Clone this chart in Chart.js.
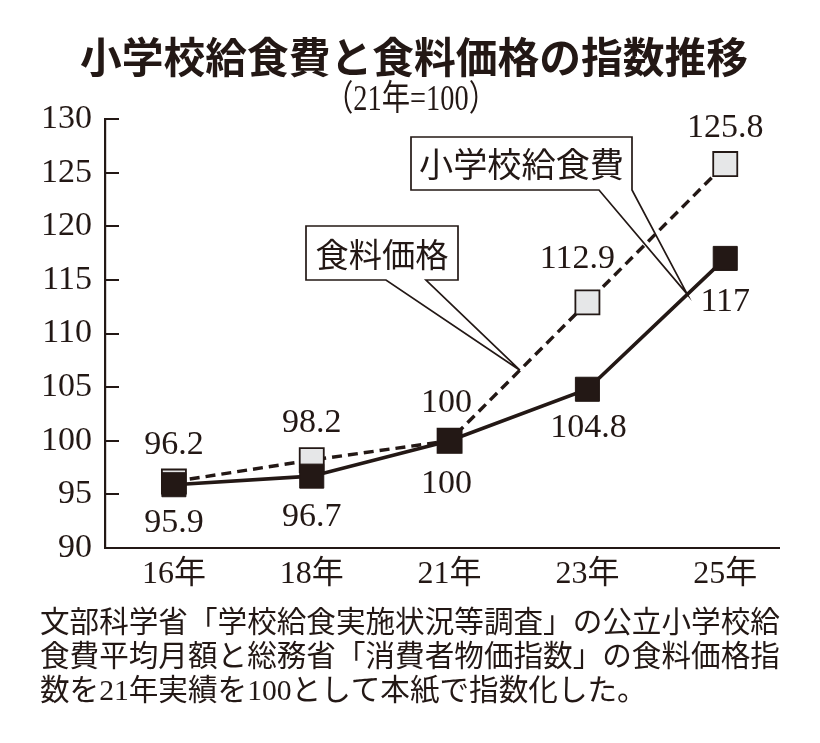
<!DOCTYPE html>
<html><head><meta charset="utf-8">
<script src="https://cdn.jsdelivr.net/npm/chart.js@4.4.1/dist/chart.umd.min.js"></script>
<style>html,body{margin:0;padding:0;background:#fff;}#wrap{width:820px;height:743px;}</style>
</head><body><div id="wrap"><canvas id="c" width="820" height="743"></canvas></div>
<script>
// ---- data ----
const categories = ['16年', '18年', '21年', '23年', '25年'];
const foodPrice = [96.2, 98.2, 100, 112.9, 125.8];      // 食料価格 (dashed)
const schoolLunch = [95.9, 96.7, 100, 104.8, 117];      // 小学校給食費 (solid)
const yTicks = [90, 95, 100, 105, 110, 115, 120, 125, 130];
const foodLabel = '食料価格';
const lunchLabel = '小学校給食費';
const titleText = '小学校給食費と食料価格の指数推移';
const subtitleText = '（21年=100）';
const noteLines = [
  '文部科学省「学校給食実施状況等調査」の公立小学校給',
  '食費平均月額と総務省「消費者物価指数」の食料価格指',
  '数を21年実績を100として本紙で指数化した。'
];

// ---- style ----
const INK = '#231815';
const SERIF = '"Liberation Serif", "Noto Sans CJK JP", serif';
const SANS = '"Noto Sans CJK JP", sans-serif';
const foodLabelOffsets = [[0, -36], [0, -37], [-3, -38], [-10, -43], [0, -36]];
const lunchLabelOffsets = [[0, 38], [0, 41], [-3, 43], [1, 39], [0, 44]];

const toPoints = arr => arr.map((v, i) => ({x: i, y: v}));

function fitFont(ctx, text, weight, family, baseSize, targetW) {
  ctx.font = weight + ' ' + baseSize + 'px ' + family;
  const w = ctx.measureText(text).width;
  const size = baseSize * targetW / w;
  return weight + ' ' + size.toFixed(2) + 'px ' + family;
}

const decorPlugin = {
  id: 'decor',
  beforeDraw(chart) {
    const ctx = chart.ctx;
    ctx.save();
    ctx.fillStyle = '#fff';
    ctx.fillRect(0, 0, chart.width, chart.height);
    ctx.restore();
  },
  beforeDatasetsDraw(chart) {
    const ctx = chart.ctx;
    const y = chart.scales.y, x = chart.scales.x;
    ctx.save();
    ctx.strokeStyle = INK;
    ctx.lineWidth = 2;
    y.ticks.forEach(t => {
      const py = Math.round(y.getPixelForValue(t.value));
      ctx.beginPath();
      ctx.moveTo(x.left, py);
      ctx.lineTo(x.left + 14, py);
      ctx.stroke();
    });
    const lunchMeta = chart.getDatasetMeta(0);
    const foodMeta = chart.getDatasetMeta(1);
    const lerp = (a, b, f) => ({x: a.x + (b.x - a.x) * f, y: a.y + (b.y - a.y) * f});
    const tipFood = lerp(foodMeta.data[2], foodMeta.data[3], 0.51);
    const tipLunch = lerp(lunchMeta.data[3], lunchMeta.data[4], 0.725);
    const callouts = [
      {text: foodLabel, l: 306, t: 226, r: 458, b: 280, wl: 386, wr: 426, tip: tipFood, tw: 133},
      {text: lunchLabel, l: 411, t: 137, r: 632, b: 190, wl: 599, wr: 632, tip: tipLunch, tw: 205}
    ];
    callouts.forEach(c => {
      ctx.beginPath();
      ctx.moveTo(c.l, c.t);
      ctx.lineTo(c.r, c.t);
      ctx.lineTo(c.r, c.b);
      ctx.lineTo(c.wr, c.b);
      ctx.lineTo(c.tip.x, c.tip.y);
      ctx.lineTo(c.wl, c.b);
      ctx.lineTo(c.l, c.b);
      ctx.closePath();
      ctx.fillStyle = '#fff';
      ctx.fill();
      ctx.lineWidth = 1.7;
      ctx.lineJoin = 'miter';
      ctx.strokeStyle = INK;
      ctx.stroke();
      ctx.fillStyle = INK;
      ctx.font = fitFont(ctx, c.text, '400', SANS, 33, c.tw);
      ctx.textAlign = 'center';
      ctx.textBaseline = 'middle';
      ctx.fillText(c.text, (c.l + c.r) / 2, (c.t + c.b) / 2 + 1);
    });
    ctx.restore();
  },
  afterDatasetsDraw(chart) {
    const ctx = chart.ctx;
    ctx.save();
    ctx.fillStyle = INK;
    ctx.font = '34px ' + SERIF;
    ctx.textAlign = 'center';
    ctx.textBaseline = 'middle';
    const sets = [[0, schoolLunch, lunchLabelOffsets], [1, foodPrice, foodLabelOffsets]];
    sets.forEach(([di, vals, offs]) => {
      const meta = chart.getDatasetMeta(di);
      meta.data.forEach((pt, i) => {
        ctx.fillText(String(vals[i]), pt.x + offs[i][0], pt.y + offs[i][1]);
      });
    });
    ctx.font = fitFont(ctx, titleText, 'bold', SANS, 42, 668);
    ctx.fillText(titleText, 414, 57);
    ctx.save();
    ctx.translate(411, 101);
    ctx.scale(1, 1.25);
    ctx.font = fitFont(ctx, subtitleText, '400', SERIF, 28, 172);
    ctx.fillText(subtitleText, 0, 0);
    ctx.restore();
    ctx.textAlign = 'left';
    ctx.font = fitFont(ctx, noteLines[0], '400', SERIF, 30, 740);
    noteLines.forEach((ln, i) => ctx.fillText(ln, 40, 624 + i * 34));
    ctx.restore();
  }
};

new Chart(document.getElementById('c'), {
  type: 'line',
  data: {
    datasets: [
      {
        label: lunchLabel,
        data: toPoints(schoolLunch),
        borderColor: INK,
        borderWidth: 3.6,
        pointStyle: 'rect',
        pointRadius: 17,
        pointBackgroundColor: INK,
        pointBorderColor: INK,
        pointBorderWidth: 1,
        tension: 0
      },
      {
        label: foodLabel,
        data: toPoints(foodPrice),
        borderColor: INK,
        borderWidth: 3.4,
        borderDash: [10, 6],
        pointStyle: 'rect',
        pointRadius: 17,
        pointBackgroundColor: '#e6e7e8',
        pointBorderColor: INK,
        pointBorderWidth: 1.8,
        tension: 0
      }
    ]
  },
  options: {
    responsive: false,
    animation: false,
    devicePixelRatio: 1,
    layout: {padding: {left: 0, top: 119, right: 41, bottom: 0}},
    plugins: {legend: {display: false}, tooltip: {enabled: false}, title: {display: false}},
    scales: {
      x: {
        type: 'linear',
        min: -0.5,
        max: 4.39,
        afterBuildTicks: s => { s.ticks = categories.map((_, i) => ({value: i})); },
        afterFit: s => { s.height = 195; },
        grid: {display: false, drawTicks: false},
        border: {display: true, color: INK, width: 2},
        ticks: {
          callback: v => categories[v],
          color: INK,
          font: {family: SERIF, size: 32},
          padding: 7,
          maxRotation: 0,
          autoSkip: false
        }
      },
      y: {
        min: 90,
        max: 130,
        afterBuildTicks: s => { s.ticks = yTicks.map(v => ({value: v})); },
        afterFit: s => { s.width = 105; },
        grid: {display: false, drawTicks: false},
        border: {display: true, color: INK, width: 2.2},
        ticks: {
          color: INK,
          font: {family: SERIF, size: 34},
          padding: 13
        }
      }
    }
  },
  plugins: [decorPlugin]
});
</script>
</body></html>
